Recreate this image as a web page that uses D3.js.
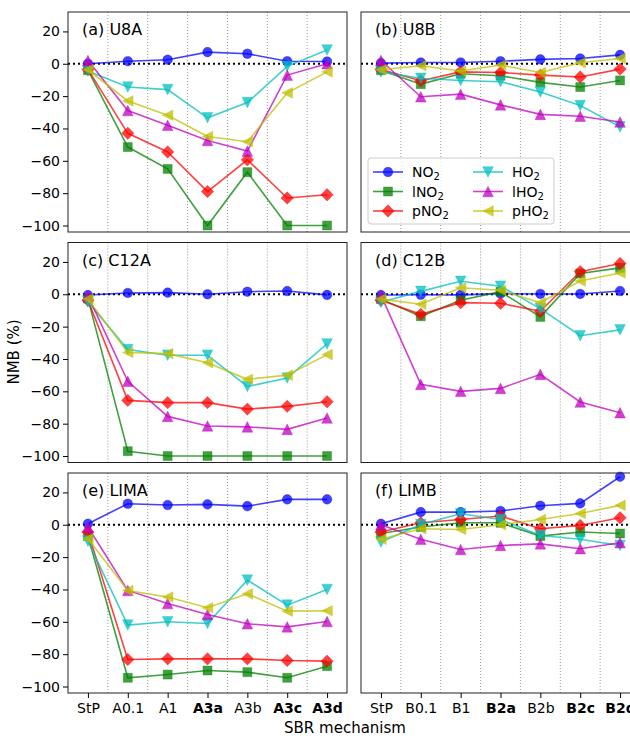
<!DOCTYPE html>
<html>
<head>
<meta charset="utf-8">
<script src="https://cdn.jsdelivr.net/npm/d3@7"></script>
<style>
  body { margin: 0; background: #fff; }
  text { font-family: "DejaVu Sans", sans-serif; fill: #000; }
</style>
</head>
<body>
<div id="canvas"></div>
<script>
// categories on the x axis
const categoriesA = ["StP", "A0.1", "A1", "A3a", "A3b", "A3c", "A3d"];
const categoriesB = ["StP", "B0.1", "B1", "B2a", "B2b", "B2c", "B2d"];
const boldTicks = ["A3a", "A3c", "A3d", "B2a", "B2c", "B2d"];
const species = ["NO2", "lNO2", "pNO2", "HO2", "lHO2", "pHO2"];
const yTicks = [20, 0, -20, -40, -60, -80, -100];

// NMB (%) per panel, rows in species order: NO2, lNO2, pNO2, HO2, lHO2, pHO2
const u8a = [
    [0, 1.6, 2.5, 7.2, 6.2, 1.6, 1.4],
    [-4, -51.5, -65, -100, -67, -100, -100],
    [-3.5, -43, -54.5, -79, -59.4, -83, -81],
    [-4.5, -14.4, -16, -33.4, -24, -1.6, 8.5],
    [2, -28.9, -38, -47.4, -54, -7, 0],
    [-3.7, -23, -31.8, -45, -48.2, -18, -5]
];
const u8b = [
    [0.4, 0.8, 0.8, 1.6, 2.7, 3.3, 5.5],
    [-4, -12.6, -6.2, -7.4, -11.5, -14.4, -10.3],
    [-3.5, -10.5, -5, -5.4, -7, -8.2, -3.3],
    [-5, -9, -10.3, -11.1, -17.5, -25.8, -39],
    [2, -20.4, -18.8, -25.4, -31.3, -32.4, -36],
    [-3.7, -1.2, -4.5, -0.8, -5.4, 0.6, 3.3]
];
const c12a = [
    [-0.5, 0.8, 1, 0, 1.6, 2, -0.4],
    [-2.7, -97, -100, -100, -100, -100, -100],
    [-3.7, -65.6, -67, -67, -71, -69.3, -66.4],
    [-4.7, -34.2, -37.7, -37.7, -57, -51.8, -30.7],
    [-0.8, -53.8, -75.5, -81.4, -82, -83.5, -76.5],
    [-3, -36, -36.7, -42.3, -52.6, -50, -37.3]
];
const c12b = [
    [-0.5, -0.3, -0.4, 0.4, 0.2, 0.2, 2],
    [-3, -13.6, -3.7, 1.6, -14, 12.8, 16.3],
    [-3.7, -12.4, -5.2, -5.6, -10.5, 14, 19],
    [-5, 1.8, 8, 5, -8.9, -25.6, -22],
    [-0.5, -55.7, -60, -58.2, -49.5, -66.6, -73.2],
    [-3, -6.2, 4, 2.5, -5.2, 8.2, 13.2]
];
const lima = [
    [0.6, 13, 12.2, 12.6, 11.5, 15.7, 15.7],
    [-7, -94.6, -92.6, -90.1, -91.1, -94.6, -87.4],
    [-4.5, -83.3, -82.9, -82.9, -82.9, -83.9, -84.3],
    [-10.1, -62, -60, -61, -34.2, -49.7, -40],
    [-1.4, -40.6, -48.7, -55.5, -61.2, -63.1, -59.8],
    [-8.7, -40.6, -44.7, -51.3, -42.7, -53.4, -53.2]
];
const limb = [
    [0.6, 7.8, 7.8, 8.5, 11.8, 13.2, 29.7],
    [-5.4, -1.4, 1.2, 1.2, -7, -4.5, -5.4],
    [-4.5, 1.2, 3.3, 5.4, -2.5, -0.4, 4.3],
    [-10.7, 0.2, 6.8, 3.3, -6.6, -9, -12.8],
    [0, -9, -15.3, -12.8, -11.8, -14.8, -11.1],
    [-9, -2.5, -2.9, 0, 3.3, 7, 12]
];

const colors = ["#0000ff", "#008000", "#ff0000", "#00bfbf", "#bf00bf", "#bfbf00"];
const markers = ["circle", "square", "diamond", "tri-down", "tri-up", "tri-left"];

const panels = [
    {title: "(a) U8A", data: u8a, cats: categoriesA, col: 0, row: 0},
    {title: "(b) U8B", data: u8b, cats: categoriesB, col: 1, row: 0},
    {title: "(c) C12A", data: c12a, cats: categoriesA, col: 0, row: 1},
    {title: "(d) C12B", data: c12b, cats: categoriesB, col: 1, row: 1},
    {title: "(e) LIMA", data: lima, cats: categoriesA, col: 0, row: 2},
    {title: "(f) LIMB", data: limb, cats: categoriesB, col: 1, row: 2}
];

const width = 630;
const height = 736;
const colX = [68, 361];
const rowY = [12, 242.5, 473];
const pw = 279;
const ph = 220;

const svg = d3.select("#canvas").append("svg")
    .attr("width", width)
    .attr("height", height);

function markerPath(type) {
    const p = d3.path();
    if (type === "circle") {
        p.arc(0, 0, 4.8, 0, 2 * Math.PI);
    } else if (type === "square") {
        p.rect(-4.5, -4.5, 9, 9);
    } else if (type === "diamond") {
        p.moveTo(0, -6.2); p.lineTo(6.2, 0); p.lineTo(0, 6.2); p.lineTo(-6.2, 0); p.closePath();
    } else if (type === "tri-up") {
        p.moveTo(0, -5.3); p.lineTo(5.3, 5.3); p.lineTo(-5.3, 5.3); p.closePath();
    } else if (type === "tri-down") {
        p.moveTo(0, 5.3); p.lineTo(5.3, -5.3); p.lineTo(-5.3, -5.3); p.closePath();
    } else {
        p.moveTo(-5.3, 0); p.lineTo(5.3, -5.3); p.lineTo(5.3, 5.3); p.closePath();
    }
    return p.toString();
}

const y = d3.scaleLinear().domain([-104, 32]).range([ph, 0]);

panels.forEach(panel => {
    const g = svg.append("g")
        .attr("transform", `translate(${colX[panel.col]},${rowY[panel.row]})`);

    const x = d3.scaleLinear().domain([-0.5, 6.5]).range([0, pw]);

    // dotted separators between mechanisms
    g.append("g").selectAll("line")
        .data(d3.range(0.5, 6, 1))
        .enter().append("line")
        .attr("x1", d => x(d)).attr("x2", d => x(d))
        .attr("y1", 0).attr("y2", ph)
        .attr("stroke", "#999")
        .attr("stroke-width", 1)
        .attr("stroke-dasharray", "1,2");

    // zero line
    g.append("line")
        .attr("x1", 0).attr("x2", pw)
        .attr("y1", y(0)).attr("y2", y(0))
        .attr("stroke", "#000")
        .attr("stroke-width", 2)
        .attr("stroke-dasharray", "2,3");

    panel.data.forEach((vals, i) => {
        const line = d3.line()
            .x((d, j) => x(j))
            .y(d => y(d));
        const s = g.append("g");
        s.append("path")
            .datum(vals)
            .attr("d", line)
            .attr("fill", "none")
            .attr("stroke", colors[i])
            .attr("stroke-opacity", 0.75)
            .attr("stroke-width", 1.6);
        s.selectAll(".mk")
            .data(vals)
            .enter().append("path")
            .attr("class", "mk")
            .attr("d", markerPath(markers[i]))
            .attr("transform", (d, j) => `translate(${x(j)},${y(d)})`)
            .attr("fill", colors[i])
            .attr("fill-opacity", 0.75)
            .attr("stroke", colors[i])
            .attr("stroke-opacity", 0.35)
            .attr("stroke-width", 1);
    });

    // frame
    g.append("rect")
        .attr("width", pw).attr("height", ph)
        .attr("fill", "none")
        .attr("stroke", "#222")
        .attr("stroke-width", 1);

    if (panel.col === 0) {
        const ya = g.append("g")
            .call(d3.axisLeft(y).tickValues(yTicks).tickSize(5).tickPadding(3)
                .tickFormat(d => d < 0 ? "\u2212" + Math.abs(d) : d));
        ya.select(".domain").remove();
        ya.selectAll("text").style("font-size", "14px").attr("font-family", "DejaVu Sans");
    }

    if (panel.row === 2) {
        const xa = g.append("g")
            .attr("transform", `translate(0,${ph})`)
            .call(d3.axisBottom(x).tickValues(d3.range(7)).tickSize(5).tickPadding(5)
                .tickFormat(d => panel.cats[d]));
        xa.select(".domain").remove();
        xa.selectAll("text")
            .style("font-size", "14px")
            .attr("font-family", "DejaVu Sans")
            .style("font-weight", d => boldTicks.includes(panel.cats[d]) ? "bold" : "normal");
    }

    g.append("text")
        .attr("x", 14)
        .attr("y", 23)
        .style("font-size", "16px")
        .text(panel.title);
});

// legend in panel (b)
const lg = svg.append("g").attr("transform", "translate(368,158)");
lg.append("rect")
    .attr("width", 186).attr("height", 66)
    .attr("rx", 3)
    .attr("fill", "#fff").attr("fill-opacity", 0.8)
    .attr("stroke", "#ccc");

species.forEach((name, i) => {
    const cx = i < 3 ? 20 : 120;
    const cy = 14 + (i % 3) * 19.5;
    const e = lg.append("g").attr("transform", `translate(${cx},${cy})`);
    e.append("line")
        .attr("x1", -15).attr("x2", 15)
        .attr("stroke", colors[i]).attr("stroke-opacity", 0.75)
        .attr("stroke-width", 1.6);
    e.append("path")
        .attr("d", markerPath(markers[i]))
        .attr("fill", colors[i]).attr("fill-opacity", 0.75)
        .attr("stroke", colors[i]).attr("stroke-opacity", 0.35);
    const t = e.append("text")
        .attr("x", 24)
        .attr("y", 5)
        .style("font-size", "14px");
    t.append("tspan").text(name.slice(0, -1));
    t.append("tspan").text("2").style("font-size", "10px").attr("dy", 3);
});

svg.append("text")
    .attr("transform", "translate(19,352) rotate(-90)")
    .attr("text-anchor", "middle")
    .style("font-size", "15px")
    .text("NMB (%)");

svg.append("text")
    .attr("x", 345)
    .attr("y", 732.5)
    .attr("text-anchor", "middle")
    .style("font-size", "15px")
    .text("SBR mechanism");
</script>
</body>
</html>
